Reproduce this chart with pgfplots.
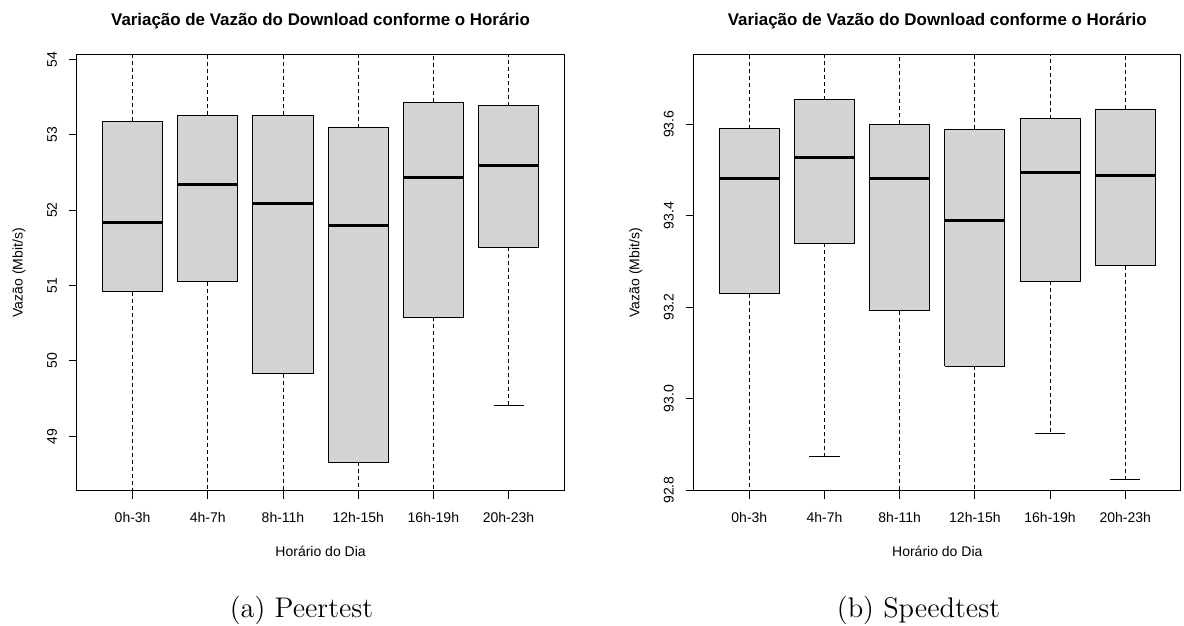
\documentclass[border=0pt]{standalone}
\usepackage{pgfplots}
\pgfplotsset{compat=1.18}
\usepackage{fontspec}
\newfontfamily\hv{Liberation Sans}
\definecolor{boxgray}{HTML}{D3D3D3}
\pgfplotsset{
  rstyle/.style={
    scale only axis,
    width=243.6pt, height=218.15pt,
    anchor=south west,
    xmin=0.26, xmax=6.74,
    unbounded coords=jump,
    axis line style={black, line width=0.5pt},
    tick style={black, line width=0.5pt},
    tick align=outside,
    major tick length=4pt,
    xtick pos=bottom, ytick pos=left,
    xtick={1,2,3,4,5,6},
    xticklabels={0h-3h,4h-7h,8h-11h,12h-15h,16h-19h,20h-23h},
    ticklabel style={font=\hv\fontsize{7}{8}\selectfont},
    /pgf/number format/assume math mode=true,
    yticklabel style={xshift=-6pt, rotate=90, anchor=base, inner sep=0pt},
    xticklabel style={yshift=-11.65pt, anchor=base, inner sep=0pt},
    every axis title shift=0pt,
    title style={font=\hv\bfseries\fontsize{8.45}{10}\selectfont, at={(axis description cs:0.5,1.0658)}, anchor=base},
    title={Variação de Vazão do Download conforme o Horário},
    xlabel={Horário do Dia}, ylabel={Vazão (Mbit/s)},
    label style={font=\hv\fontsize{7}{8}\selectfont},
    xlabel style={at={(axis description cs:0.5,-0.1375)}, anchor=center},
    ylabel style={at={(axis description cs:-0.119,0.5)}, anchor=center},
  },
  boxes/.style={draw=black, fill=boxgray, line width=0.5pt, mark=none},
  medians/.style={draw=black, line width=1.5pt, mark=none},
  whisk/.style={draw=black, line width=0.5pt, dash pattern=on 2pt off 1.5pt, mark=none},
  caps/.style={draw=black, line width=0.5pt, mark=none},
}
\begin{document}
\begin{tikzpicture}
\path[use as bounding box] (0,0) rectangle (592pt,313pt);
% (a) Peertest
\begin{axis}[rstyle, at={(38.5pt,67.5pt)},
  ymin=48.275, ymax=54.06, ytick={49,50,51,52,53,54}]
% boxes: lower quartile / upper quartile
\addplot[boxes] coordinates {
 (0.6,50.92) (1.4,50.92) (1.4,53.18) (0.6,53.18) (0.6,50.92) (nan,nan)
 (1.6,51.05) (2.4,51.05) (2.4,53.26) (1.6,53.26) (1.6,51.05) (nan,nan)
 (2.6,49.83) (3.4,49.83) (3.4,53.26) (2.6,53.26) (2.6,49.83) (nan,nan)
 (3.6,48.655) (4.4,48.655) (4.4,53.09) (3.6,53.09) (3.6,48.655) (nan,nan)
 (4.6,50.58) (5.4,50.58) (5.4,53.43) (4.6,53.43) (4.6,50.58) (nan,nan)
 (5.6,51.51) (6.4,51.51) (6.4,53.385) (5.6,53.385) (5.6,51.51)
};
% medians
\addplot[medians] coordinates {
 (0.6,51.84) (1.4,51.84) (nan,nan)
 (1.6,52.34) (2.4,52.34) (nan,nan)
 (2.6,52.09) (3.4,52.09) (nan,nan)
 (3.6,51.80) (4.4,51.80) (nan,nan)
 (4.6,52.43) (5.4,52.43) (nan,nan)
 (5.6,52.59) (6.4,52.59)
};
% whiskers (upper ones and most lower ones run past the plot region)
\addplot[whisk] coordinates {
 (1,53.18) (1,54.06) (nan,nan) (1,50.92) (1,48.275) (nan,nan)
 (2,53.26) (2,54.06) (nan,nan) (2,51.05) (2,48.275) (nan,nan)
 (3,53.26) (3,54.06) (nan,nan) (3,49.83) (3,48.275) (nan,nan)
 (4,53.09) (4,54.06) (nan,nan) (4,48.655) (4,48.275) (nan,nan)
 (5,53.43) (5,54.06) (nan,nan) (5,50.58) (5,48.275) (nan,nan)
 (6,53.385) (6,54.06) (nan,nan) (6,51.51) (6,49.41)
};
\addplot[caps] coordinates {(5.8,49.41) (6.2,49.41)};
\end{axis}
% (b) Speedtest
\begin{axis}[rstyle, at={(346.85pt,67.5pt)},
  ymin=92.798, ymax=93.752, ytick={92.8,93.0,93.2,93.4,93.6},
  yticklabel style={/pgf/number format/.cd, fixed, fixed zerofill, precision=1}]
\addplot[boxes] coordinates {
 (0.6,93.229) (1.4,93.229) (1.4,93.590) (0.6,93.590) (0.6,93.229) (nan,nan)
 (1.6,93.340) (2.4,93.340) (2.4,93.654) (1.6,93.654) (1.6,93.340) (nan,nan)
 (2.6,93.192) (3.4,93.192) (3.4,93.600) (2.6,93.600) (2.6,93.192) (nan,nan)
 (3.6,93.071) (4.4,93.071) (4.4,93.589) (3.6,93.589) (3.6,93.071) (nan,nan)
 (4.6,93.257) (5.4,93.257) (5.4,93.612) (4.6,93.612) (4.6,93.257) (nan,nan)
 (5.6,93.291) (6.4,93.291) (6.4,93.633) (5.6,93.633) (5.6,93.291)
};
\addplot[medians] coordinates {
 (0.6,93.481) (1.4,93.481) (nan,nan)
 (1.6,93.528) (2.4,93.528) (nan,nan)
 (2.6,93.481) (3.4,93.481) (nan,nan)
 (3.6,93.389) (4.4,93.389) (nan,nan)
 (4.6,93.494) (5.4,93.494) (nan,nan)
 (5.6,93.488) (6.4,93.488)
};
\addplot[whisk] coordinates {
 (1,93.590) (1,93.752) (nan,nan) (1,93.229) (1,92.798) (nan,nan)
 (2,93.654) (2,93.752) (nan,nan) (2,93.340) (2,92.873) (nan,nan)
 (3,93.600) (3,93.752) (nan,nan) (3,93.192) (3,92.798) (nan,nan)
 (4,93.589) (4,93.752) (nan,nan) (4,93.071) (4,92.798) (nan,nan)
 (5,93.612) (5,93.752) (nan,nan) (5,93.257) (5,92.924) (nan,nan)
 (6,93.633) (6,93.752) (nan,nan) (6,93.291) (6,92.823)
};
\addplot[caps] coordinates {
 (1.8,92.873) (2.2,92.873) (nan,nan)
 (4.8,92.924) (5.2,92.924) (nan,nan)
 (5.8,92.823) (6.2,92.823)
};
\end{axis}
\node[font=\fontsize{14.2}{17}\selectfont, anchor=base] at (150.75pt,4pt) {(a) Peertest};
\node[font=\fontsize{14.2}{17}\selectfont, anchor=base] at (459.25pt,4pt) {(b) Speedtest};
\end{tikzpicture}
\end{document}
